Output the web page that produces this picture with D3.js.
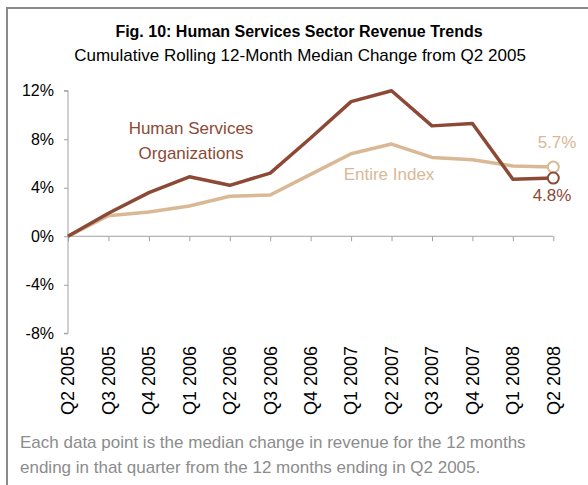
<!DOCTYPE html>
<meta charset="utf-8">
<style>
  body { margin: 0; background: #fff; }
  svg { display: block; font-family: "Liberation Sans", Arial, sans-serif; }
</style>
<svg width="588" height="485"></svg>
<script src="https://cdn.jsdelivr.net/npm/d3@7"></script>
<script>

var quarters = ["Q2 2005", "Q3 2005", "Q4 2005", "Q1 2006", "Q2 2006", "Q3 2006", "Q4 2006",
                "Q1 2007", "Q2 2007", "Q3 2007", "Q4 2007", "Q1 2008", "Q2 2008"];
var humanServices = [0, 1.9, 3.6, 4.9, 4.2, 5.2, 8.1, 11.1, 12.0, 9.1, 9.3, 4.7, 4.8];
var entireIndex = [0, 1.7, 2.0, 2.5, 3.3, 3.4, 5.1, 6.8, 7.6, 6.5, 6.3, 5.8, 5.7];
var yTicks = [12, 8, 4, 0, -4, -8];

var svg = d3.select("svg");

var darkCol = "#8c4a36",
    lightCol = "#d9b896",
    axisCol = "#a0a0a0";

// frame (top and left only)
svg.append("path")
    .attr("d", "M7,485V8H588")
    .attr("fill", "none")
    .attr("stroke", "#8a8a8a")
    .attr("stroke-width", 2);

// titles
svg.append("text")
    .attr("x", 299).attr("y", 37)
    .attr("text-anchor", "middle")
    .attr("font-size", 16).attr("font-weight", "bold")
    .attr("fill", "#000")
    .text("Fig. 10: Human Services Sector Revenue Trends");

svg.append("text")
    .attr("x", 300).attr("y", 61)
    .attr("text-anchor", "middle")
    .attr("font-size", 17)
    .attr("fill", "#000")
    .text("Cumulative Rolling 12-Month Median Change from Q2 2005");

var x = d3.scalePoint().domain(quarters).range([68, 553.3]);
var y = d3.scaleLinear().domain([-8, 12]).range([333.3, 90.7]);

// y axis
var yAxis = svg.append("g")
    .attr("transform", "translate(68,0)")
    .call(d3.axisLeft(y).tickValues(yTicks).tickSize(4).tickPadding(10)
        .tickFormat(function(d) { return d + "%"; }));
yAxis.select(".domain").attr("stroke", axisCol).attr("d", "M-4," + y(12) + "H0V" + y(-8) + "H-4");
yAxis.selectAll(".tick line").attr("stroke", axisCol);
yAxis.selectAll(".tick text")
    .attr("font-size", 16).attr("fill", "#000")
    .attr("font-family", "Liberation Sans, Arial, sans-serif");

// x axis on zero line
var xAxis = svg.append("g")
    .attr("transform", "translate(0," + y(0) + ")")
    .call(d3.axisBottom(x).tickSize(5).tickFormat(""));
xAxis.select(".domain").attr("stroke", axisCol).attr("d", "M" + x(quarters[0]) + ",0H" + x(quarters[12]));
xAxis.selectAll(".tick line").attr("stroke", axisCol);

// rotated category labels
svg.append("g").selectAll("text")
    .data(quarters)
    .join("text")
    .attr("transform", function(d) { return "translate(" + x(d) + ",346) rotate(-90)"; })
    .attr("dy", "0.35em")
    .attr("text-anchor", "end")
    .attr("font-size", 18)
    .attr("fill", "#000")
    .text(function(d) { return d; });

var line = d3.line()
    .x(function(d, i) { return x(quarters[i]); })
    .y(function(d) { return y(d); });

svg.append("path")
    .datum(entireIndex)
    .attr("d", line)
    .attr("fill", "none")
    .attr("stroke", lightCol)
    .attr("stroke-width", 3.5)
    .attr("stroke-linejoin", "round");

svg.append("path")
    .datum(humanServices)
    .attr("d", line)
    .attr("fill", "none")
    .attr("stroke", darkCol)
    .attr("stroke-width", 3.5)
    .attr("stroke-linejoin", "round");

// end markers
svg.append("circle")
    .attr("cx", x(quarters[12])).attr("cy", y(entireIndex[12])).attr("r", 5.5)
    .attr("fill", "#fff").attr("stroke", lightCol).attr("stroke-width", 2);
svg.append("circle")
    .attr("cx", x(quarters[12])).attr("cy", y(humanServices[12])).attr("r", 5.5)
    .attr("fill", "#fff").attr("stroke", darkCol).attr("stroke-width", 2);

// series labels
svg.append("text")
    .attr("x", 191).attr("y", 134)
    .attr("text-anchor", "middle").attr("font-size", 17).attr("fill", darkCol)
    .text("Human Services");
svg.append("text")
    .attr("x", 191).attr("y", 159)
    .attr("text-anchor", "middle").attr("font-size", 17).attr("fill", darkCol)
    .text("Organizations");
svg.append("text")
    .attr("x", 389).attr("y", 180)
    .attr("text-anchor", "middle").attr("font-size", 17).attr("fill", lightCol)
    .text("Entire Index");
svg.append("text")
    .attr("x", 557).attr("y", 148)
    .attr("text-anchor", "middle").attr("font-size", 17).attr("fill", lightCol)
    .text(entireIndex[12].toFixed(1) + "%");
svg.append("text")
    .attr("x", 552).attr("y", 201)
    .attr("text-anchor", "middle").attr("font-size", 17).attr("fill", darkCol)
    .text(humanServices[12].toFixed(1) + "%");

// footnote
svg.append("text")
    .attr("x", 20).attr("y", 448)
    .attr("font-size", 17).attr("fill", "#8c8c8c")
    .text("Each data point is the median change in revenue for the 12 months");
svg.append("text")
    .attr("x", 20).attr("y", 473)
    .attr("font-size", 17).attr("fill", "#8c8c8c")
    .text("ending in that quarter from the 12 months ending in Q2 2005.");

</script>
